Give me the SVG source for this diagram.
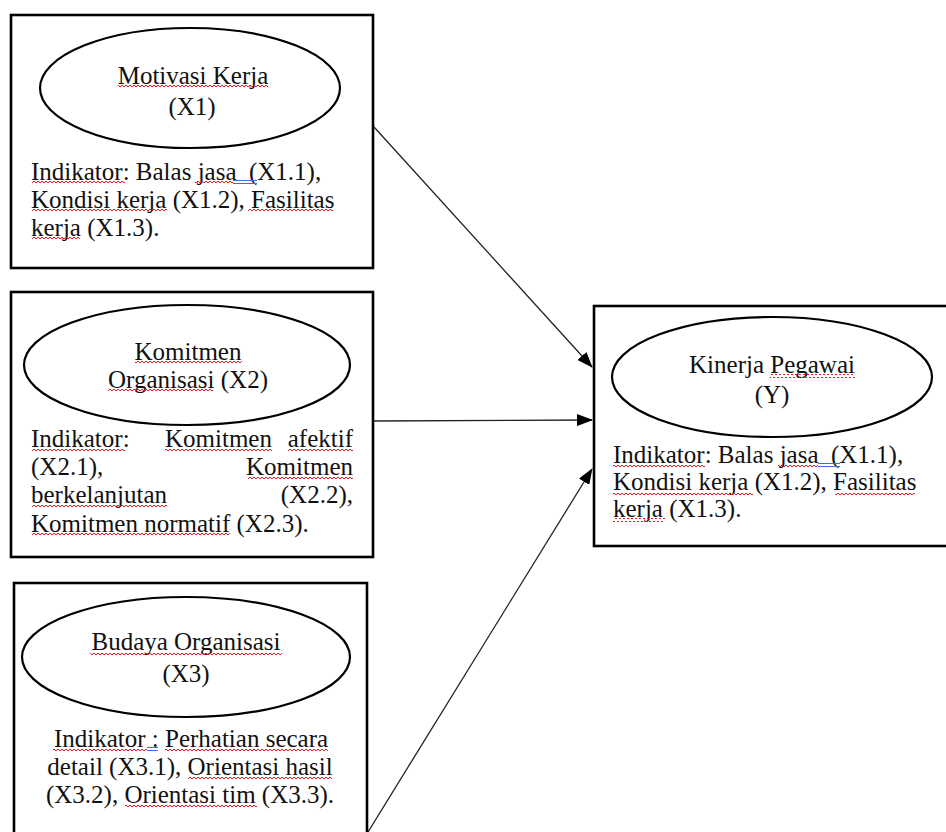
<svg xmlns="http://www.w3.org/2000/svg" width="946" height="832" viewBox="0 0 946 832">
<style>
.box{fill:#fff;stroke:#000;stroke-width:2.6}
.ell{fill:#fff;stroke:#000;stroke-width:2.2}
.t{font-family:"Liberation Serif","Times New Roman",serif;font-size:25px;fill:#111}
.c{text-anchor:middle}
.e{text-anchor:end}
.sq{fill:url(#wave)}
.bl{stroke:#3b6fe0;stroke-width:1;fill:none}
.conn{stroke:#222;stroke-width:1.3;fill:none;marker-end:url(#arr)}
</style>
<defs>
<pattern id="wave" patternUnits="userSpaceOnUse" width="4" height="4">
<path d="M0,3 L2,1 L4,3" stroke="#e02020" stroke-width="1" fill="none"/>
</pattern>
<marker id="arr" markerUnits="userSpaceOnUse" markerWidth="16" markerHeight="12" refX="15" refY="6" orient="auto">
<path d="M0,0 L16,6 L0,12 Z" fill="#000"/>
</marker>
</defs>
<rect width="946" height="832" fill="#fff"/>

<g id="connectors">
<line class="conn" x1="374" y1="127" x2="592" y2="367"/>
<line class="conn" x1="374" y1="421" x2="592" y2="420"/>
<line class="conn" x1="368" y1="832" x2="592" y2="469"/>
</g>

<g id="x1">
<rect class="box" x="11" y="15" width="362" height="253"/>
<ellipse class="ell" cx="190" cy="88" rx="150" ry="60"/>
<text class="t c" x="193" y="84">Motivasi Kerja</text>
<text class="t c" x="192" y="115">(X1)</text>
<rect class="sq" x="118" y="85" width="150" height="4"/>
<text class="t" x="31" y="180" xml:space="preserve">Indikator: Balas jasa  (X1.1),</text>
<text class="t" x="31" y="208">Kondisi kerja (X1.2), Fasilitas</text>
<text class="t" x="31" y="236">kerja (X1.3).</text>
<rect class="sq" x="32" y="181" width="93" height="4"/>
<rect class="sq" x="195" y="181" width="38" height="4"/>
<path class="bl" d="M233,180.5 H257 M233,183.5 H257"/>
<rect class="sq" x="32" y="209" width="135" height="4"/>
<rect class="sq" x="248" y="209" width="85" height="4"/>
<rect class="sq" x="32" y="237" width="48" height="4"/>
</g>

<g id="x2">
<rect class="box" x="11" y="292" width="362" height="265"/>
<ellipse class="ell" cx="187" cy="365" rx="163" ry="60"/>
<text class="t c" x="188" y="360">Komitmen</text>
<text class="t c" x="188" y="388">Organisasi (X2)</text>
<rect class="sq" x="135" y="361" width="107" height="4"/>
<rect class="sq" x="108" y="389" width="105" height="4"/>
<text class="t" x="31" y="447">Indikator:</text>
<text class="t" x="165" y="447">Komitmen</text>
<text class="t e" x="353" y="447">afektif</text>
<text class="t" x="31" y="475">(X2.1),</text>
<text class="t e" x="353" y="475">Komitmen</text>
<text class="t" x="31" y="503">berkelanjutan</text>
<text class="t e" x="353" y="503">(X2.2),</text>
<text class="t" x="31" y="532">Komitmen normatif (X2.3).</text>
<rect class="sq" x="32" y="448" width="93" height="4"/>
<rect class="sq" x="165" y="448" width="107" height="4"/>
<rect class="sq" x="288" y="448" width="65" height="4"/>
<rect class="sq" x="248" y="476" width="105" height="4"/>
<rect class="sq" x="32" y="504" width="135" height="4"/>
<rect class="sq" x="32" y="533" width="198" height="4"/>
</g>

<g id="x3">
<rect class="box" x="14" y="583" width="353" height="260"/>
<ellipse class="ell" cx="186" cy="657" rx="164" ry="60"/>
<text class="t c" x="186" y="650">Budaya Organisasi</text>
<text class="t c" x="186" y="682">(X3)</text>
<rect class="sq" x="90" y="651" width="192" height="4"/>
<text class="t c" x="191" y="747">Indikator : Perhatian secara</text>
<text class="t c" x="190" y="775">detail (X3.1), Orientasi hasil</text>
<text class="t c" x="190" y="803">(X3.2), Orientasi tim (X3.3).</text>
<rect class="sq" x="53" y="748" width="94" height="4"/>
<path class="bl" d="M147,747.5 H158 M147,750.5 H158"/>
<rect class="sq" x="165" y="748" width="163" height="4"/>
<rect class="sq" x="188" y="776" width="144" height="4"/>
<rect class="sq" x="125" y="804" width="132" height="4"/>
</g>

<g id="y">
<rect class="box" x="594" y="306" width="360" height="240"/>
<ellipse class="ell" cx="772" cy="377" rx="160" ry="60"/>
<text class="t c" x="772" y="373">Kinerja Pegawai</text>
<text class="t c" x="772" y="403">(Y)</text>
<rect class="sq" x="770" y="374" width="85" height="4"/>
<text class="t" x="613" y="463" xml:space="preserve">Indikator: Balas jasa  (X1.1),</text>
<text class="t" x="613" y="490">Kondisi kerja (X1.2), Fasilitas</text>
<text class="t" x="613" y="517">kerja (X1.3).</text>
<rect class="sq" x="613" y="464" width="92" height="4"/>
<rect class="sq" x="778" y="464" width="40" height="4"/>
<path class="bl" d="M818,463.5 H840 M818,466.5 H840"/>
<rect class="sq" x="613" y="491" width="140" height="4"/>
<rect class="sq" x="835" y="491" width="80" height="4"/>
<rect class="sq" x="613" y="518" width="52" height="4"/>
</g>
</svg>
